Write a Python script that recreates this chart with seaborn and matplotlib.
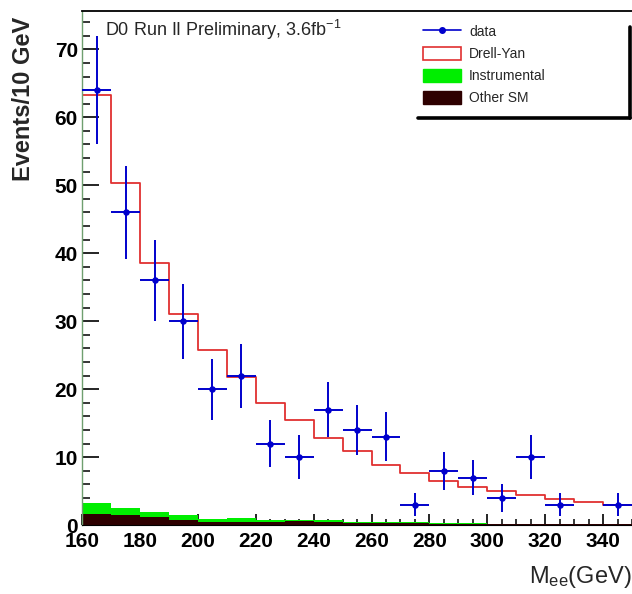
import matplotlib
matplotlib.use("Agg")
import matplotlib.pyplot as plt
import matplotlib.ticker as mticker
from matplotlib.lines import Line2D
from matplotlib.patches import Patch
import seaborn as sns
import numpy as np
import pandas as pd

# ── Data ───────────────────────────────────────────────────────────
bin_edges = [160, 170, 180, 190, 200, 210, 220, 230, 240, 250,
             260, 270, 280, 290, 300, 310, 320, 330, 340, 350]
bin_centers = [165, 175, 185, 195, 205, 215, 225, 235, 245, 255,
               265, 275, 285, 295, 305, 315, 325, 335, 345]

data_counts = [64, 46, 36, 30, 20, 22, 12, 10, 17, 14,
               13, 3, 8, 7, 4, 10, 3, 0, 3]
data_errors = [8.0, 6.8, 6.0, 5.5, 4.5, 4.7, 3.5, 3.2, 4.1, 3.7,
               3.6, 1.7, 2.8, 2.6, 2.0, 3.2, 1.7, 0.0, 1.7]

# top of the stacked prediction (Drell-Yan outline)
drell_yan = [63.3, 50.3, 38.5, 31.0, 25.7, 21.8, 18.0, 15.4, 12.8, 10.9,
             8.9, 7.7, 6.5, 5.6, 5.0, 4.5, 3.8, 3.4, 3.0]
# top of Instrumental (stacked on Other SM)
instrumental = [3.2, 2.5, 1.9, 1.5, 0.9, 1.0, 0.7, 0.8, 0.7, 0.5,
                0.4, 0.4, 0.3, 0.3, 0.2, 0.15, 0.15, 0.15, 0.15]
other_sm = [1.7, 1.5, 1.2, 0.7, 0.5, 0.5, 0.4, 0.55, 0.45, 0.3,
            0.25, 0.3, 0.15, 0.15, 0.15, 0.15, 0.15, 0.15, 0.15]

COLORS = {
    "data": "#0000cc",
    "dy": "#e03030",
    "instr": "#00ee00",
    "other": "#2e0000",
}

# ── Style ──────────────────────────────────────────────────────────
sns.set_style("ticks")
FONT = ["Liberation Sans", "DejaVu Sans"]
plt.rcParams.update({
    "font.family": FONT,
    "mathtext.default": "regular",
})

df = pd.DataFrame({
    "mass": bin_centers,
    "counts": data_counts,
    "err": data_errors,
    "dy": drell_yan,
    "instr": instrumental,
    "other": other_sm,
})

fig = plt.figure(figsize=(6.32, 5.94), dpi=100)
ax = fig.add_axes([0.13, 0.116, 0.87, 0.865])

# stacked backgrounds: green top first, dark on top of it
sns.histplot(data=df, x="mass", weights="instr", bins=bin_edges, element="step",
             fill=True, color=COLORS["instr"], alpha=1, linewidth=0, ax=ax)
sns.histplot(data=df, x="mass", weights="other", bins=bin_edges, element="step",
             fill=True, color=COLORS["other"], alpha=1, linewidth=0, ax=ax)
# Drell-Yan outline
sns.histplot(data=df, x="mass", weights="dy", bins=bin_edges, element="step",
             fill=False, color=COLORS["dy"], linewidth=1.3, ax=ax)

# data points (skip empty bins)
pts = df[df["counts"] > 0]
ax.errorbar(pts["mass"], pts["counts"], xerr=5, yerr=pts["err"], fmt="none",
            ecolor=COLORS["data"], elinewidth=1.4, capsize=0, zorder=5)
sns.scatterplot(data=pts, x="mass", y="counts", color=COLORS["data"], s=22,
                edgecolor=COLORS["data"], linewidth=0, zorder=6, ax=ax)

ax.set_xlim(160, 350)
ax.set_ylim(0, 75.6)

ax.xaxis.set_major_locator(mticker.MultipleLocator(20))
ax.xaxis.set_minor_locator(mticker.MultipleLocator(5))
ax.yaxis.set_major_locator(mticker.MultipleLocator(10))
ax.yaxis.set_minor_locator(mticker.MultipleLocator(2))
ax.tick_params(axis="both", which="both", direction="in", colors="black")
ax.tick_params(axis="y", which="major", length=12, width=1.2, pad=3)
ax.tick_params(axis="y", which="minor", length=6, width=1.1)
ax.tick_params(axis="x", which="major", length=8, width=1.2, pad=5)
ax.tick_params(axis="x", which="minor", length=4, width=1.1)
ax.tick_params(axis="both", which="major", labelsize=15)
for lab in ax.get_xticklabels() + ax.get_yticklabels():
    lab.set_fontweight("bold")

ax.spines["right"].set_visible(False)
ax.spines["left"].set_color("#6f9f6f")
ax.spines["left"].set_linewidth(1.0)
ax.spines["top"].set_color("black")
ax.spines["top"].set_linewidth(1.3)
ax.spines["bottom"].set_color("black")

ax.set_ylabel("Events/10 GeV", fontsize=17, fontweight="bold")
ax.yaxis.set_label_coords(-0.085, 0.83)
ax.set_xlabel(r"M$_{ee}$(GeV)", fontsize=17, ha="right")
ax.xaxis.set_label_coords(1.0, -0.075)

ax.text(0.042, 0.988, r"D0 Run II Preliminary, 3.6fb$^{-1}$", transform=ax.transAxes,
        fontsize=13, ha="left", va="top")

# ── Legend ─────────────────────────────────────────────────────────
handles = [
    Line2D([0], [0], color=COLORS["data"], marker="o", markersize=4, linewidth=1.2),
    Patch(facecolor="white", edgecolor=COLORS["dy"], linewidth=1.2),
    Patch(facecolor=COLORS["instr"], edgecolor=COLORS["instr"]),
    Patch(facecolor=COLORS["other"], edgecolor=COLORS["other"]),
]
labels = ["data", "Drell-Yan", "Instrumental", "Other SM"]
leg = ax.legend(handles, labels, loc="upper left", bbox_to_anchor=(0.61, 0.985),
                frameon=False, handlelength=2.7, handleheight=1.1,
                labelspacing=0.55, handletextpad=0.6, borderaxespad=0,
                prop={"size": 10})
# ROOT-style shadow under/right of the legend box
ax.plot([0.611, 0.996], [0.792, 0.792], transform=ax.transAxes, color="black",
        linewidth=2.6, clip_on=False, zorder=7)
ax.plot([0.996, 0.996], [0.792, 0.97], transform=ax.transAxes, color="black",
        linewidth=2.6, clip_on=False, zorder=7)

fig.savefig("out.png", dpi=100, facecolor="white")
